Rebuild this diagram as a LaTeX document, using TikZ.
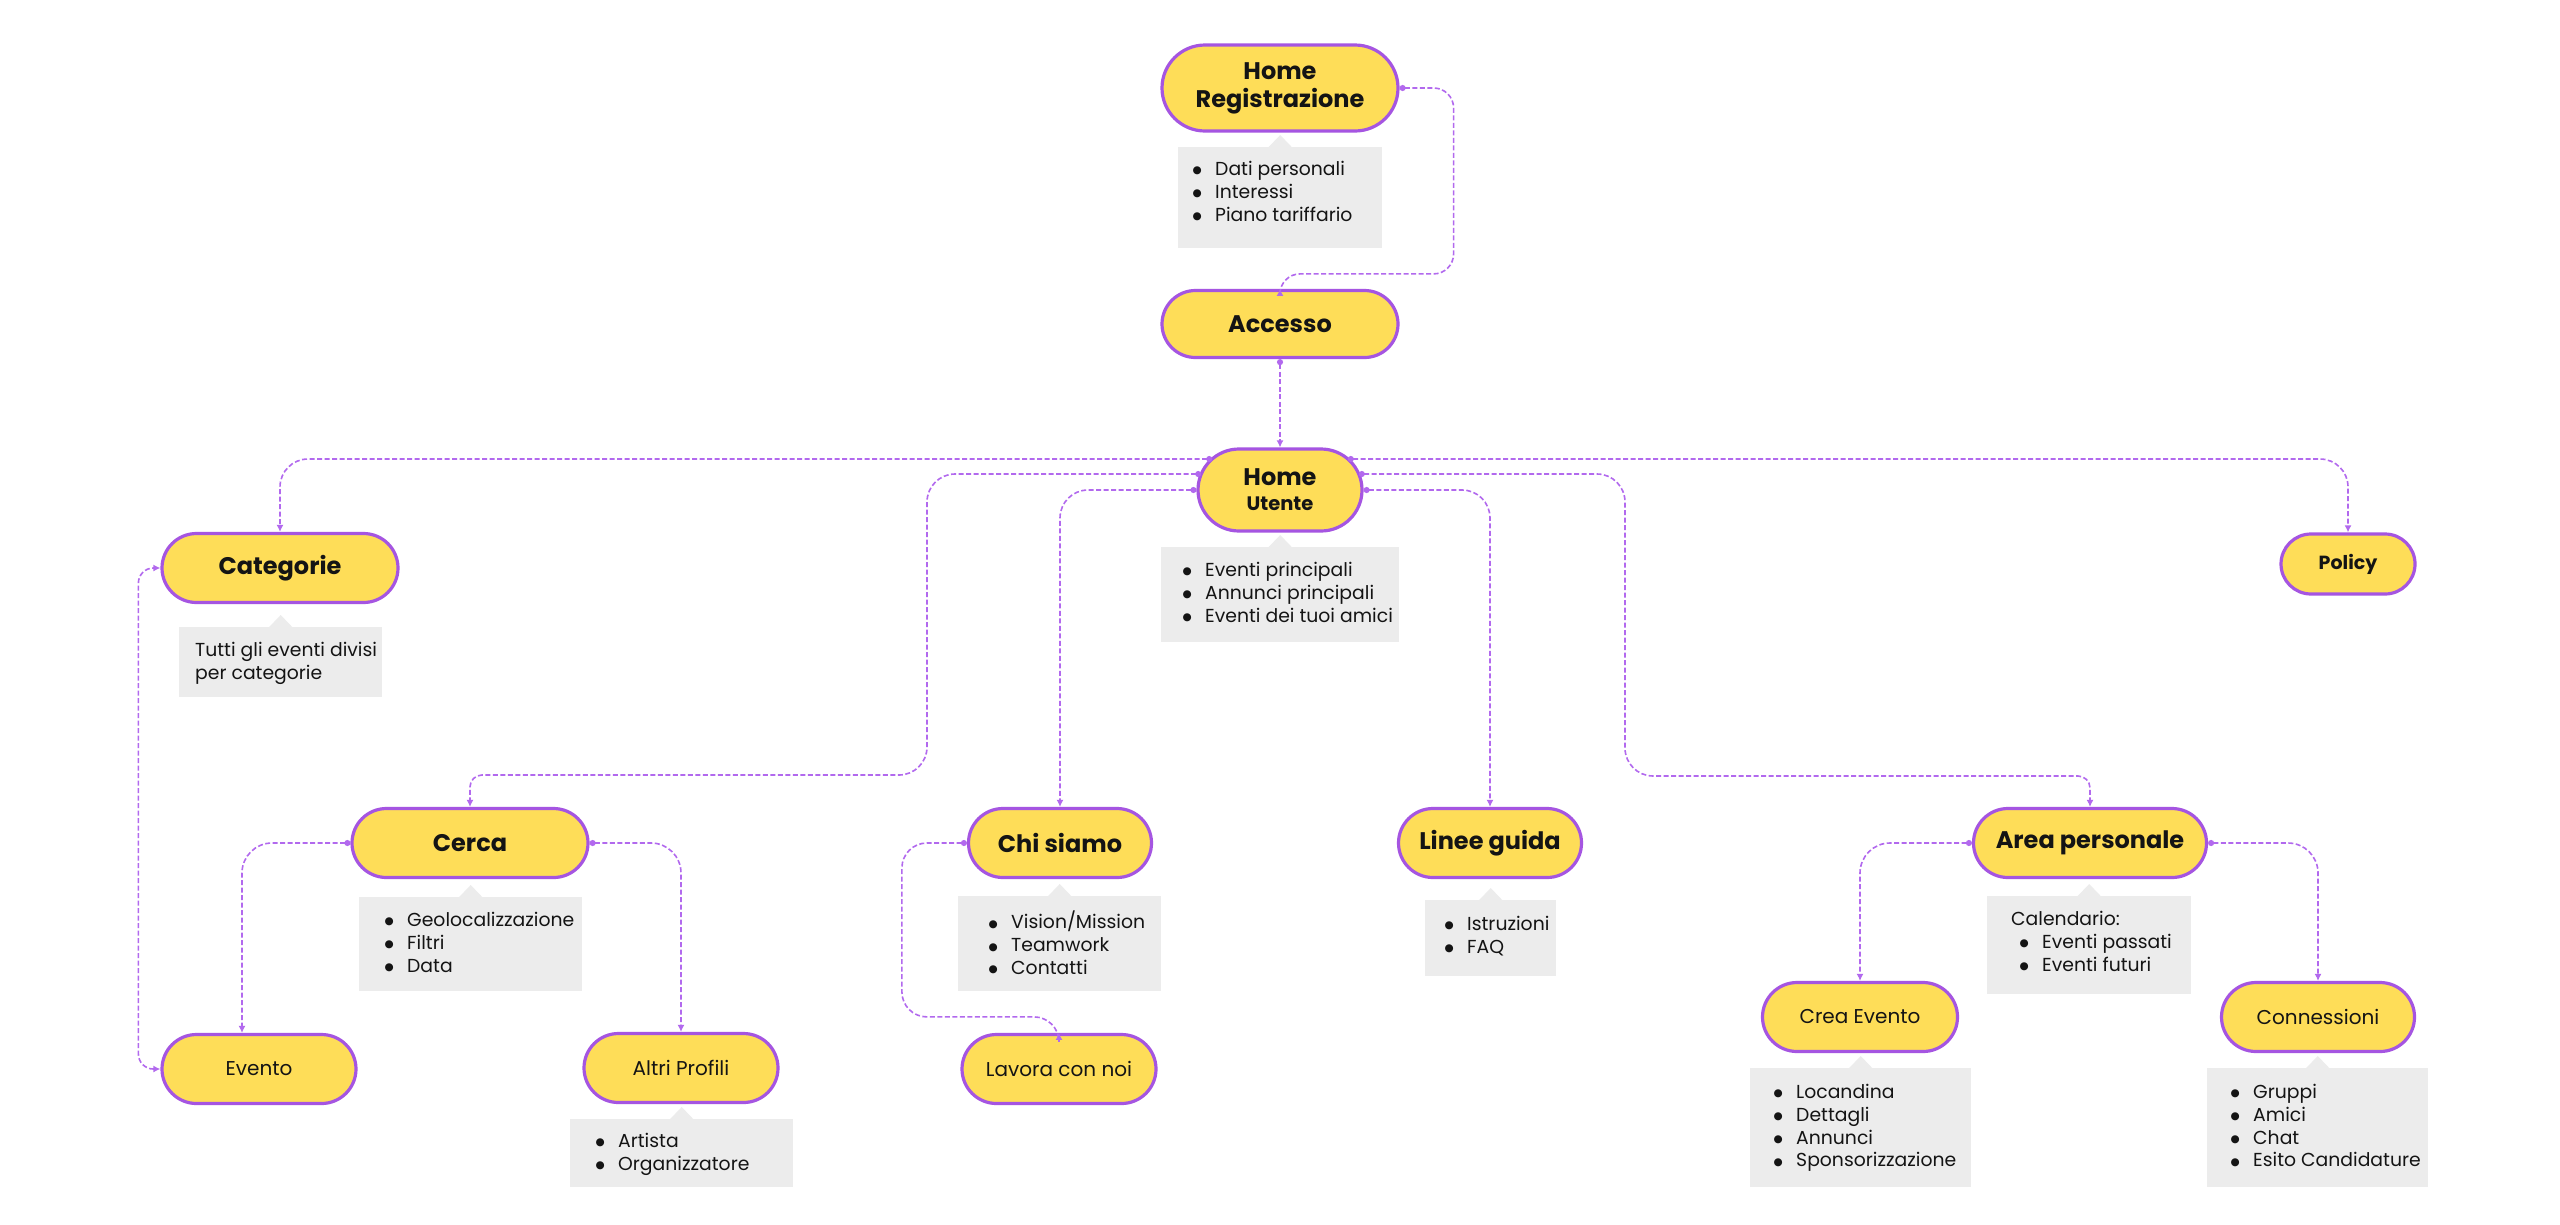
\documentclass[tikz,border=0pt]{standalone}
\usepackage{fontspec}
\setmainfont{Poppins}
\newfontfamily\djv{DejaVu Sans}
\usetikzlibrary{arrows.meta,calc}
\definecolor{nodefill}{RGB}{254,221,88}
\definecolor{nodeedge}{RGB}{165,85,225}
\definecolor{linkcol}{RGB}{178,105,238}
\definecolor{notegray}{RGB}{236,236,236}
\definecolor{txt}{RGB}{20,20,20}
\newcommand\itm[1]{\makebox[16pt][c]{\raisebox{1.6pt}{\djv\fontsize{10.5}{10.5}\selectfont ●}}\hspace{10pt}#1}
\newcommand\ptr[1]{\fill[notegray] ($(#1.north)+(-11.5,0)$) -- ++(11.5,-12) -- ++(11.5,12) -- cycle;}
\tikzset{
  pill/.style 2 args={rectangle, draw=nodeedge, fill=nodefill, line width=3.2pt,
    minimum width=#1, minimum height=#2, rounded corners=0.5*#2, inner sep=0pt,
    align=center, text=txt},
  ttl/.style={font=\fontsize{24}{28}\selectfont\bfseries},
  ttlsmall/.style={font=\fontsize{19}{23}\selectfont\bfseries},
  reg/.style={font=\fontsize{20}{24}\selectfont},
  notebox/.style={rectangle, fill=notegray, draw=none, inner sep=0pt, anchor=north west},
  notetxt/.style={anchor=north west, inner sep=0pt, align=left, text=txt,
    font=\fontsize{18.8}{22.8}\selectfont},
  link/.style={draw=linkcol, line width=1.6pt, dash pattern=on 5pt off 2.5pt,
    {Circle[length=6pt]}-{Latex[length=7pt,width=7pt]}},
  linkboth/.style={link, {Latex[length=7pt,width=7pt]}-{Latex[length=7pt,width=7pt]}},
}
\begin{document}
\begin{tikzpicture}[x=1pt,y=-1pt]
\useasboundingbox (0,0) rectangle (2560,1224);
\fill[white] (0,0) rectangle (2560,1224);

% ---------- main nodes ----------
\node[pill={236pt}{86pt}, ttl] (hr) at (1280,88) {Home\\Registrazione};
\node[pill={236pt}{67pt}, ttl] (acc) at (1280,324) {Accesso};
\node[pill={164pt}{82pt}, ttl] (hu) at (1280,490) {Home\\[-3pt]{\fontsize{19.5}{23}\selectfont Utente}};
\node[pill={236pt}{69pt}, ttl] (cat) at (280,568) {Categorie};
\node[pill={134pt}{60pt}, ttlsmall] (pol) at (2348,564) {Policy};
\node[pill={236pt}{69pt}, ttl] (cerca) at (470,843) {Cerca};
\node[pill={194pt}{69pt}, reg] (ev) at (259,1069) {Evento};
\node[pill={194pt}{69pt}, reg] (alt) at (681,1068) {Altri Profili};
\node[pill={183pt}{69pt}, ttl] (chi) at (1060,843) {Chi siamo};
\node[pill={194pt}{69pt}, reg] (lav) at (1059,1069) {Lavora con noi};
\node[pill={183pt}{69pt}, ttl] (lg) at (1490,843) {Linee guida};
\node[pill={233pt}{69pt}, ttl] (ap) at (2090,843) {Area personale};
\node[pill={195pt}{69pt}, reg] (crea) at (1860,1017) {Crea Evento};
\node[pill={193pt}{69pt}, reg] (conn) at (2318,1017) {Connessioni};

% ---------- notes ----------
\node[notebox, minimum width=204pt, minimum height=101pt] (nhr) at (1178,147) {};
\ptr{nhr}
\node[notetxt] (thr) at ($(nhr.north west)+(11,14)$) {\itm{Dati personali}\\\itm{Interessi}\\\itm{Piano tariffario}};

\node[notebox, minimum width=238pt, minimum height=95pt] (nhu) at (1161,547) {};
\ptr{nhu}
\node[notetxt] (thu) at ($(nhu.north west)+(18,15)$) {\itm{Eventi principali}\\\itm{Annunci principali}\\\itm{Eventi dei tuoi amici}};

\node[notebox, minimum width=203pt, minimum height=70pt] (ncat) at (179,627) {};
\ptr{ncat}
\node[notetxt] (tcat) at ($(ncat.north west)+(16,15)$) {Tutti gli eventi divisi\\per categorie};

\node[notebox, minimum width=223pt, minimum height=94pt] (ncer) at (359,897) {};
\ptr{ncer}
\node[notetxt] (tcer) at ($(ncer.north west)+(22,15)$) {\itm{Geolocalizzazione}\\\itm{Filtri}\\\itm{Data}};

\node[notebox, minimum width=223pt, minimum height=68pt] (nalt) at (570,1119) {};
\ptr{nalt}
\node[notetxt] (talt) at ($(nalt.north west)+(22,14)$) {\itm{Artista}\\\itm{Organizzatore}};

\node[notebox, minimum width=203pt, minimum height=95pt] (nchi) at (958,896) {};
\ptr{nchi}
\node[notetxt] (tchi) at ($(nchi.north west)+(27,15)$) {\itm{Vision/Mission}\\\itm{Teamwork}\\\itm{Contatti}};

\node[notebox, minimum width=131pt, minimum height=76pt] (nlg) at (1425,900) {};
\ptr{nlg}
\node[notetxt] (tlg) at ($(nlg.north west)+(16,16)$) {\itm{Istruzioni}\\\itm{FAQ}};

\node[notebox, minimum width=204pt, minimum height=98pt] (nap) at (1987,896) {};
\ptr{nap}
\node[notetxt] (tap) at ($(nap.north west)+(24,15)$) {Calendario:\\\hspace*{5pt}\itm{Eventi passati}\\\hspace*{5pt}\itm{Eventi futuri}};

\node[notebox, minimum width=221pt, minimum height=119pt] (ncr) at (1750,1068) {};
\ptr{ncr}
\node[notetxt] (tcr) at ($(ncr.north west)+(20,16)$) {\itm{Locandina}\\\itm{Dettagli}\\\itm{Annunci}\\\itm{Sponsorizzazione}};

\node[notebox, minimum width=221pt, minimum height=119pt] (nco) at (2207,1068) {};
\ptr{nco}
\node[notetxt] (tco) at ($(nco.north west)+(20,16)$) {\itm{Gruppi}\\\itm{Amici}\\\itm{Chat}\\\itm{Esito Candidature}};

% ---------- attachment points on Home Utente ----------
\coordinate (huA) at ($(hu.center)+(-67.8,-31)$);
\coordinate (huB) at ($(hu.center)+(67.8,-31)$);
\coordinate (huC) at ($(hu.center)+(-78.8,-16)$);
\coordinate (huD) at ($(hu.center)+(78.8,-16)$);

% ---------- connectors ----------
\draw[link, rounded corners=20pt] (hr.east) -- ++(54,0) |- ($(acc.north)+(0,-15)$) [rounded corners=10pt] -- (acc.north);
\draw[link] (acc.south) -- (hu.north);
\draw[link, rounded corners=28pt] (huA) -| (cat.north);
\draw[link, rounded corners=28pt] (huB) -| (pol.north);
\draw[link, rounded corners=28pt] (huC) -| (927,775) -- (700,775) [rounded corners=12pt] -- (cerca.north |- 0,775) -- (cerca.north);
\draw[link, rounded corners=28pt] (huD) -| (1625,776) -- (1800,776) [rounded corners=12pt] -- (ap.north |- 0,776) -- (ap.north);
\draw[link, rounded corners=28pt] (hu.west) -| (chi.north);
\draw[link, rounded corners=28pt] (hu.east) -| (lg.north);
\draw[link, rounded corners=30pt] (cerca.west) -| ($(ev.north)+(-17,0)$);
\draw[link, rounded corners=30pt] (cerca.east) -| (alt.north);
\draw[linkboth, rounded corners=15pt] (ev.west) -- ++(-22,0) |- (cat.west);
\draw[link, rounded corners=25pt] (chi.west) -- ++(-65,0) |- ($(lav.north)+(0,-16)$) [rounded corners=8pt] -- (lav.north);
\draw[link, rounded corners=30pt] (ap.west) -| (crea.north);
\draw[link, rounded corners=30pt] (ap.east) -| (conn.north);
\end{tikzpicture}
\end{document}
